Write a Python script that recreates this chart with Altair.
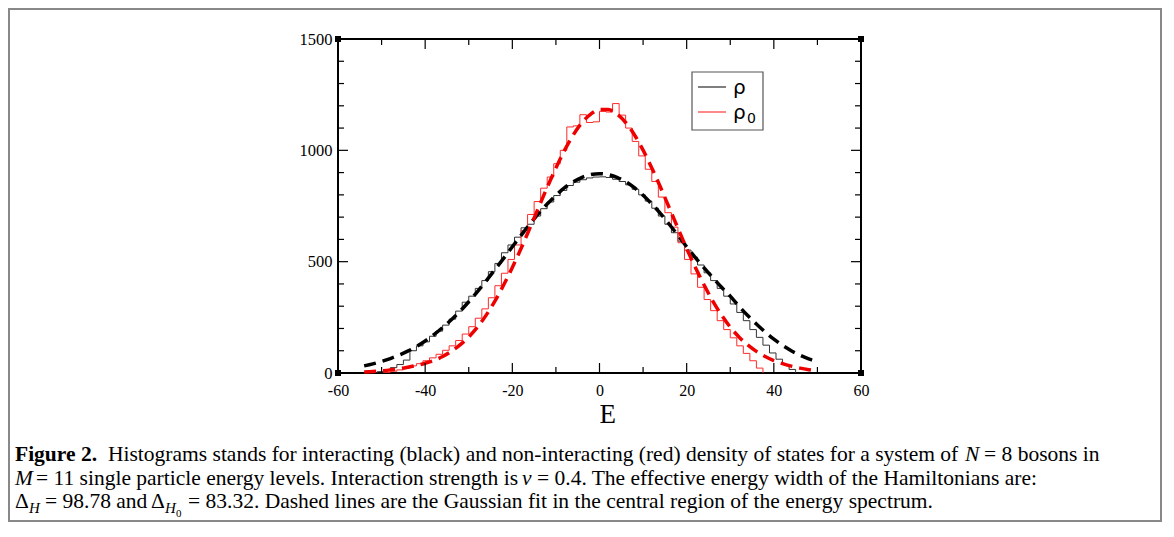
import altair as alt
import pandas as pd

# ---------------- data ----------------
# histogram of interacting DOS (rho): first bin edge, bin width, counts
rho_start = -51.0
rho_width = 1.5
rho_counts = [6, 14, 24, 38, 58, 100, 122, 140, 165, 188,
              215, 242, 278, 318, 345, 380, 415, 455, 492, 540,
              575, 610, 652, 668, 705, 738, 768, 797, 820, 842,
              857, 868, 876, 880, 881, 878, 870, 860, 845, 825,
              800, 772, 740, 705, 668, 630, 592, 552, 520, 485,
              450, 415, 380, 345, 310, 272, 235, 195, 160, 125,
              90, 62, 38, 16]

# histogram of non-interacting DOS (rho_0)
rho0_start = -49.5
rho0_width = 1.5
rho0_counts = [3, 8, 14, 22, 32, 42, 55, 68, 84, 102,
               122, 146, 175, 208, 246, 288, 338, 392, 448, 510,
               575, 640, 712, 770, 830, 880, 940, 1000, 1105, 1110,
               1160, 1125, 1128, 1175, 1172, 1210, 1158, 1100, 1040, 975,
               915, 860, 790, 720, 655, 585, 510, 445, 385, 330,
               280, 235, 195, 158, 122, 88, 55, 22]

# Gaussian fits (dashed), sampled every 2 energy units
fit_E = list(range(-54, 51, 2))
fit_rho = [32, 41, 52, 65, 80, 98, 119, 144, 172, 204,
           239, 277, 320, 366, 414, 464, 515, 567, 618, 668,
           716, 759, 798, 832, 859, 879, 891, 895, 891, 879,
           859, 832, 798, 759, 716, 668, 618, 567, 518, 472,
           428, 385, 345, 300, 258, 220, 184, 152, 124, 100,
           80, 63, 50]
fit_rho0 = [5, 7, 10, 14, 19, 26, 34, 44, 56, 74,
            97, 126, 162, 206, 260, 323, 395, 474, 559, 650,
            742, 834, 921, 1001, 1070, 1125, 1163, 1183, 1183, 1163,
            1125, 1070, 1001, 921, 834, 742, 650, 559, 474, 395,
            323, 260, 206, 162, 126, 97, 74, 56, 42, 31,
            22, 15, 10]

# axis ticks / labels
x_labels = [-60, -40, -20, 0, 20, 40, 60]
x_minor = [-50, -30, -10, 10, 30, 50]
y_labels = [0, 500, 1000, 1500]
y_minor = [100, 200, 300, 400, 600, 700, 800, 900, 1100, 1200, 1300, 1400]

# caption segments
cap1 = ["Figure 2.",
        "Histograms stands for interacting (black) and non-interacting (red) density of states for a system of",
        "N", "= 8 bosons in"]
cap2 = ["M", "= 11 single particle energy levels. Interaction strength is",
        "v", "= 0.4. The effective energy width of the Hamiltonians are:"]
cap3 = ["Δ", "H", "= 98.78 and", "Δ", "H", "0",
        "= 83.32. Dashed lines are the Gaussian fit in the central region of the energy spectrum."]

# ---------------- layout constants (pixels) ----------------
W, H = 523, 334
OX, OY = 338, 39          # page position of the plot's top-left corner
SERIF = "Liberation Serif"
SANS = "DejaVu Sans"
CAP = 21.5


def hist_df(start, width, counts):
    rows = [{"E": start, "n": 0, "i": 0}]
    for k, c in enumerate(counts):
        rows.append({"E": start + k * width, "n": c, "i": k + 1})
    end = start + len(counts) * width
    rows.append({"E": end, "n": counts[-1], "i": len(counts) + 1})
    rows.append({"E": end, "n": 0, "i": len(counts) + 2})
    return pd.DataFrame(rows)


xs = alt.Scale(domain=[-60, 60], nice=False, zero=False)
ys = alt.Scale(domain=[0, 1500], nice=False)
xaxis = alt.Axis(values=x_labels, ticks=False, domain=False, grid=False,
                 labelFont=SERIF, labelFontSize=16, labelColor="black",
                 labelPadding=9, title=None, labelOverlap=False, labelFlush=False,
                 labelExpr="datum.value + ''")
yaxis = alt.Axis(values=y_labels, ticks=False, domain=False, grid=False,
                 labelFont=SERIF, labelFontSize=16.5, labelColor="black",
                 labelPadding=6, title=None, labelOverlap=False, labelFlush=False,
                 labelExpr="datum.value + ''")
X = alt.X("E:Q", scale=xs, axis=xaxis)
Y = alt.Y("n:Q", scale=ys, axis=yaxis)

layers = []

# histograms
layers.append(alt.Chart(hist_df(rho_start, rho_width, rho_counts)).mark_line(
    interpolate="step-after", color="#333333", strokeWidth=1).encode(
    x=X, y=Y, order="i:Q"))
layers.append(alt.Chart(hist_df(rho0_start, rho0_width, rho0_counts)).mark_line(
    interpolate="step-after", color="#ff2a2a", strokeWidth=1).encode(
    x=X, y=Y, order="i:Q"))

# Gaussian fits
layers.append(alt.Chart(pd.DataFrame({"E": fit_E, "n": fit_rho})).mark_line(
    interpolate="monotone", color="black", strokeWidth=3.5, strokeDash=[12, 7]).encode(x=X, y=Y))
layers.append(alt.Chart(pd.DataFrame({"E": fit_E, "n": fit_rho0})).mark_line(
    interpolate="monotone", color="#ee0000", strokeWidth=3.5, strokeDash=[12, 7]).encode(x=X, y=Y))


# inward ticks on all four sides
def xticks(vals, length):
    df = pd.DataFrame({"E": vals})
    bot = alt.Chart(df).mark_rule(color="black", strokeWidth=1.2).encode(
        x=X, y=alt.value(H), y2=alt.value(H - length))
    top = alt.Chart(df).mark_rule(color="black", strokeWidth=1.2).encode(
        x=X, y=alt.value(0), y2=alt.value(length))
    return [bot, top]


def yticks(vals, length):
    df = pd.DataFrame({"n": vals})
    left = alt.Chart(df).mark_rule(color="black", strokeWidth=1.2).encode(
        y=Y, x=alt.value(0), x2=alt.value(length))
    right = alt.Chart(df).mark_rule(color="black", strokeWidth=1.2).encode(
        y=Y, x=alt.value(W), x2=alt.value(W - length))
    return [left, right]


layers += xticks(x_labels[1:-1], 10) + xticks(x_minor, 6)
layers += yticks(y_labels[1:-1], 10) + yticks(y_minor, 6)

# corner squares (xmgrace style)
corners = pd.DataFrame({"E": [-60, 60, -60, 60], "n": [0, 0, 1500, 1500]})
layers.append(alt.Chart(corners).mark_square(size=36, color="black", opacity=1).encode(x=X, y=Y))

one = pd.DataFrame({"a": [0]})


def txt(x, y, s, size=CAP, style="normal", weight="normal", font=SERIF,
        color="black", align="left", baseline="alphabetic"):
    return alt.Chart(one).mark_text(
        text=s, font=font, fontSize=size, fontStyle=style, fontWeight=weight,
        align=align, baseline=baseline, color=color).encode(
        x=alt.value(x), y=alt.value(y))


def ptxt(px, py, s, **kw):
    """text placed at page pixel coordinates"""
    return txt(px - OX, py - OY, s, **kw)


# x axis title
layers.append(txt(W / 2, 384, "E", size=27))

# legend
layers.append(alt.Chart(one).mark_rect(fill="white", stroke="#555555", strokeWidth=1.2).encode(
    x=alt.value(354), x2=alt.value(425), y=alt.value(33), y2=alt.value(91)))
layers.append(alt.Chart(one).mark_rule(color="#555555", strokeWidth=1.5).encode(
    x=alt.value(360), x2=alt.value(388), y=alt.value(48)))
layers.append(alt.Chart(one).mark_rule(color="#ff6060", strokeWidth=1.5).encode(
    x=alt.value(360), x2=alt.value(388), y=alt.value(73)))
layers.append(txt(395, 55, "ρ", size=20, font=SANS))
layers.append(txt(395, 80, "ρ", size=20, font=SANS))
layers.append(txt(409, 84, "0", size=14, font=SANS))

# caption box
layers.append(alt.Chart(one).mark_rect(fill=None, stroke="#888888", strokeWidth=2).encode(
    x=alt.value(-329), x2=alt.value(823), y=alt.value(-30), y2=alt.value(482)))

# caption text (page coordinates)
b1, b2, b3 = 461, 485, 508
layers.append(ptxt(15, b1, cap1[0], weight="bold"))
layers.append(ptxt(108, b1, cap1[1]))
layers.append(ptxt(965, b1, cap1[2], style="italic"))
layers.append(ptxt(984, b1, cap1[3]))
layers.append(ptxt(15, b2, cap2[0], style="italic"))
layers.append(ptxt(36, b2, cap2[1]))
layers.append(ptxt(522, b2, cap2[2], style="italic"))
layers.append(ptxt(537, b2, cap2[3]))
layers.append(ptxt(15, b3, cap3[0]))
layers.append(ptxt(29, b3 + 5, cap3[1], size=15, style="italic"))
layers.append(ptxt(45, b3, cap3[2]))
layers.append(ptxt(151, b3, cap3[3]))
layers.append(ptxt(165, b3 + 5, cap3[4], size=15, style="italic"))
layers.append(ptxt(176, b3 + 9, cap3[5], size=11))
layers.append(ptxt(188, b3, cap3[6]))

chart = alt.layer(*layers).properties(
    width=W, height=H,
    padding={"left": 330, "top": 31, "right": 305, "bottom": 150},
    autosize=alt.AutoSizeParams(type="none"),
    background="white",
).configure_view(stroke="black", strokeWidth=2)

chart.save("out.html", embed_options={"renderer": "svg", "actions": False})
